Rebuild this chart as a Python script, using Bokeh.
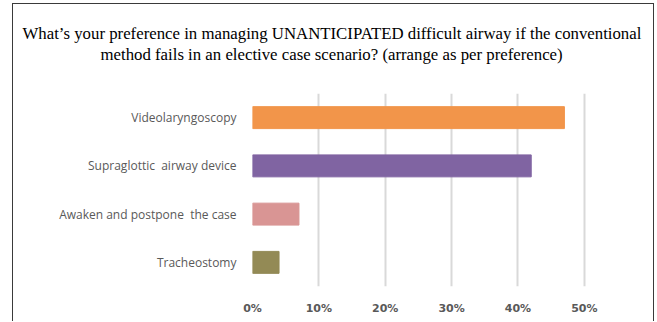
from bokeh.plotting import figure
from bokeh.models import (Range1d, FactorRange, FixedTicker, NumeralTickFormatter,
                          Title, ColumnDataSource)
from bokeh.embed import file_html
from bokeh.resources import INLINE

# ---- data ----
categories = ["Videolaryngoscopy", "Supraglottic \u00a0airway device",
              "Awaken and postpone \u00a0the case", "Tracheostomy"]
shares = [0.47, 0.42, 0.07, 0.04]
bar_colors = ["#F2954A", "#8064A2", "#D99594", "#938A55"]
tick_values = [0, 0.1, 0.2, 0.3, 0.4, 0.5]
title_lines = ["What\u2019s your preference in managing UNANTICIPATED difficult airway if the conventional",
               "method fails in an elective case scenario? (arrange as per preference)"]

src = ColumnDataSource(dict(cat=categories, val=shares, color=bar_colors))

p = figure(width=642, height=318, output_backend="svg", toolbar_location=None,
           y_range=FactorRange(factors=categories[::-1]),
           x_range=Range1d(0, 0.55),
           min_border_left=239, min_border_right=38,
           min_border_top=89, min_border_bottom=36,
           title=None)

p.styles = {"margin-left": "12px", "margin-top": "3px",
            "border-left": "1.5px solid #3a3a3a",
            "border-top": "1.5px solid #3a3a3a",
            "border-right": "1.5px solid #3a3a3a"}

p.hbar(y="cat", right="val", left=0, height=0.455, color="color",
       line_color="color", source=src)

p.outline_line_color = None
p.background_fill_color = "white"
p.border_fill_color = "white"

# x axis
p.xaxis.ticker = FixedTicker(ticks=tick_values)
p.xaxis.formatter = NumeralTickFormatter(format="0%")
p.xaxis.axis_line_color = None
p.xaxis.major_tick_line_color = None
p.xaxis.minor_tick_line_color = None
p.xaxis.major_label_text_font = "DejaVu Sans"
p.xaxis.major_label_text_font_style = "bold"
p.xaxis.major_label_text_font_size = "11px"
p.xaxis.major_label_text_color = "#595959"
p.xaxis.major_label_standoff = 9

# y axis
p.yaxis.axis_line_color = None
p.yaxis.major_tick_line_color = None
p.yaxis.minor_tick_line_color = None
p.yaxis.major_label_text_font = "Open Sans"
p.yaxis.major_label_text_font_size = "12px"
p.yaxis.major_label_text_color = "#595959"
p.yaxis.major_label_standoff = 10

# grid
p.ygrid.grid_line_color = None
p.xgrid.ticker = FixedTicker(ticks=tick_values)
p.xgrid.grid_line_color = "#D9D9D9"
p.xgrid.grid_line_width = 2

# title lines (second line closest to the plot, added first)
for txt, pad, off in [(title_lines[1], 30, -152), (title_lines[0], 0, -230)]:
    p.add_layout(Title(text=txt, align="left", offset=off, standoff=0,
                       padding=dict(left=0, right=0, top=0, bottom=pad),
                       text_font="Liberation Serif", text_font_size="16.8px",
                       text_font_style="normal", text_color="#000000"), "above")

open("out.html", "w").write(file_html(p, INLINE))
